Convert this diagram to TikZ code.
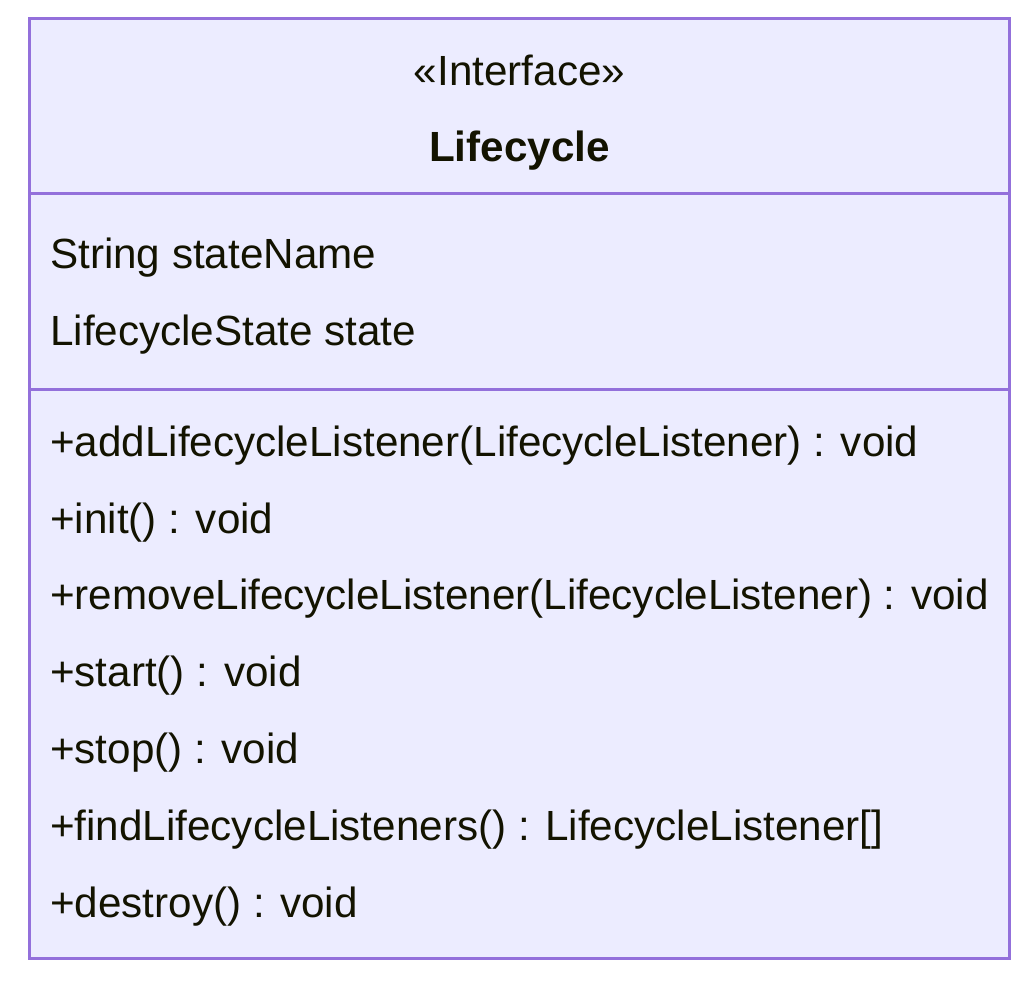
\documentclass[tikz,border=0pt]{standalone}
\usepackage{fontspec}
\setmainfont{Liberation Sans}
\definecolor{boxfill}{HTML}{ECECFF}
\definecolor{boxline}{HTML}{9370DB}
\definecolor{txt}{HTML}{131300}
\begin{document}
\begin{tikzpicture}[x=1pt,y=-1pt,
  cls/.style={draw=boxline,fill=boxfill,line width=3pt},
  sep/.style={draw=boxline,line width=3pt},
  member/.style={anchor=base west,inner sep=0pt,text=txt,font=\fontsize{42.2}{50}\selectfont},
  title/.style={anchor=base,inner sep=0pt,text=txt,font=\fontsize{42.2}{50}\selectfont}]
\useasboundingbox (0,0) rectangle (1024,982);
\path[cls] (29.5,18.5) rectangle (1009.5,958);
\coordinate (d1l) at (29.5,193.5);
\coordinate (d1r) at (1009.5,193.5);
\coordinate (d2l) at (29.5,389.5);
\coordinate (d2r) at (1009.5,389.5);
\draw[sep] (d1l) -- (d1r);
\draw[sep] (d2l) -- (d2r);
\node[title] (stereo) at (519.5,85) {«Interface»};
\node[title,font=\fontsize{42.2}{50}\selectfont\bfseries] (name) at (519.5,161) {Lifecycle};
\node[member] (a1) at (50,268) {String stateName};
\node[member] (a2) at (50,345) {LifecycleState state};
\node[member] (m1) at (50,456) {+addLifecycleListener(LifecycleListener) : void};
\node[member] (m2) at (50,533) {+init() : void};
\node[member] (m3) at (50,609) {+removeLifecycleListener(LifecycleListener) : void};
\node[member] (m4) at (50,686) {+start() : void};
\node[member] (m5) at (50,763) {+stop() : void};
\node[member] (m6) at (50,840) {+findLifecycleListeners() : LifecycleListener[]};
\node[member] (m7) at (50,917) {+destroy() : void};
\end{tikzpicture}
\end{document}
